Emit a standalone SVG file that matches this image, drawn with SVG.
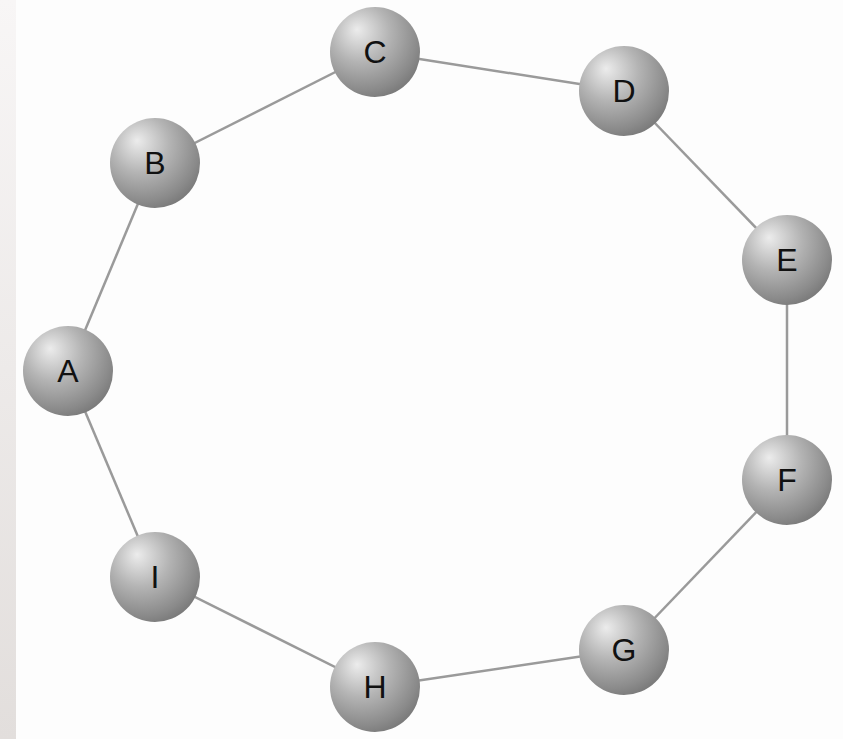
<svg xmlns="http://www.w3.org/2000/svg" width="843" height="739" viewBox="0 0 843 739">
<defs>
<linearGradient id="strip" x1="0" y1="0" x2="0" y2="1"><stop offset="0" stop-color="#f8f6f6"/><stop offset="1" stop-color="#e2dedc"/></linearGradient>
<radialGradient id="ball" cx="0.38" cy="0.33" r="0.72" fx="0.3" fy="0.25"><stop offset="0" stop-color="#ececec"/><stop offset="0.45" stop-color="#b4b4b4"/><stop offset="0.85" stop-color="#8a8a8a"/><stop offset="1" stop-color="#787878"/></radialGradient>
<style>
.n circle{fill:url(#ball)}
.n text{font-family:"Liberation Sans",Arial,sans-serif;font-size:32px;fill:#111;text-anchor:middle;dominant-baseline:central}
#edges line{stroke:#9a9a9a;stroke-width:2.5}
</style>
</defs>
<rect width="843" height="739" fill="#fdfdfd"/>
<rect width="16" height="739" fill="url(#strip)"/>
<g id="edges">
<line x1="68" y1="371" x2="155" y2="163"/>
<line x1="155" y1="163" x2="375" y2="52"/>
<line x1="375" y1="52" x2="624" y2="91"/>
<line x1="624" y1="91" x2="787" y2="260"/>
<line x1="787" y1="260" x2="787" y2="480"/>
<line x1="787" y1="480" x2="624" y2="650"/>
<line x1="624" y1="650" x2="375" y2="687"/>
<line x1="375" y1="687" x2="155" y2="577"/>
<line x1="155" y1="577" x2="68" y2="371"/>
</g>
<g id="A" class="n"><circle cx="68" cy="371" r="45"/><text x="68" y="371">A</text></g>
<g id="B" class="n"><circle cx="155" cy="163" r="45"/><text x="155" y="163">B</text></g>
<g id="C" class="n"><circle cx="375" cy="52" r="45"/><text x="375" y="52">C</text></g>
<g id="D" class="n"><circle cx="624" cy="91" r="45"/><text x="624" y="91">D</text></g>
<g id="E" class="n"><circle cx="787" cy="260" r="45"/><text x="787" y="260">E</text></g>
<g id="F" class="n"><circle cx="787" cy="480" r="45"/><text x="787" y="480">F</text></g>
<g id="G" class="n"><circle cx="624" cy="650" r="45"/><text x="624" y="650">G</text></g>
<g id="H" class="n"><circle cx="375" cy="687" r="45"/><text x="375" y="687">H</text></g>
<g id="I" class="n"><circle cx="155" cy="577" r="45"/><text x="155" y="577">I</text></g>
</svg>
